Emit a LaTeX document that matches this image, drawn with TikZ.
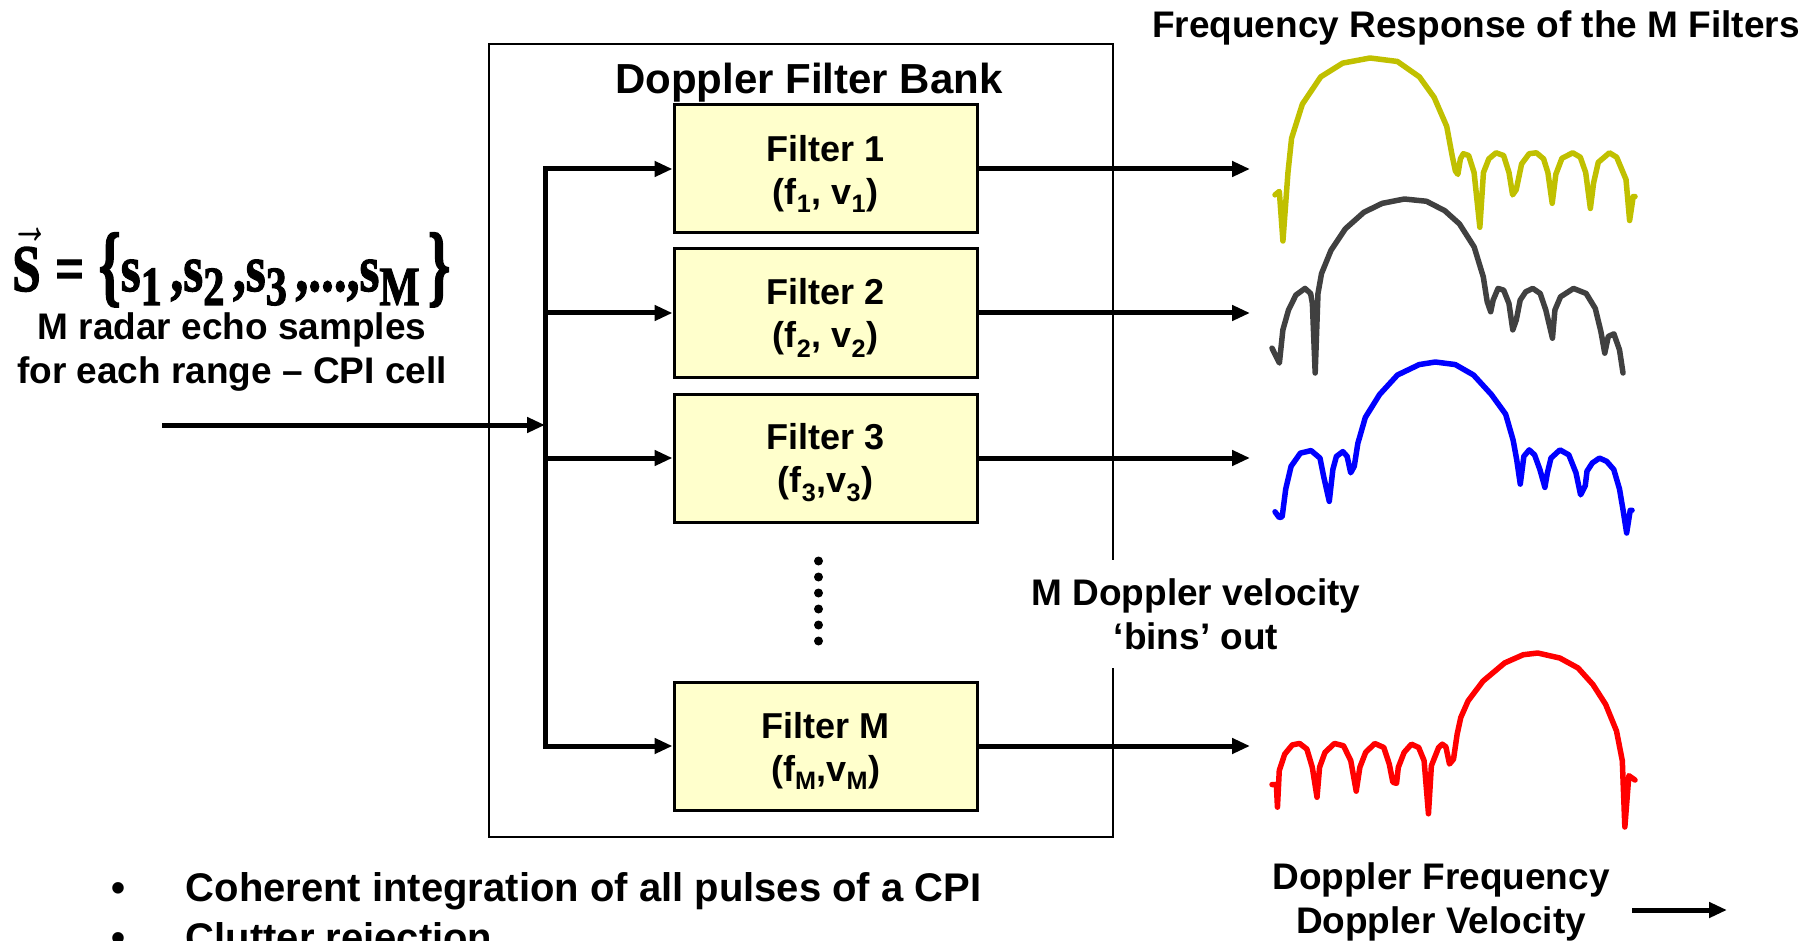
\documentclass[tikz,border=0pt]{standalone}
\usepackage{amsmath}
\usepackage{graphicx}
\usepackage{fontspec}
\setmainfont{Liberation Sans}
\newfontfamily\eqfont{Liberation Serif}[BoldFont={Liberation Serif Bold}, BoldFeatures={FakeBold=2}]
\usepackage{tikz}
\usetikzlibrary{
  arrows.meta,
  positioning,
  calc
}
\definecolor{filtercolor}{RGB}{255, 255, 204}
\definecolor{labelcolor}{RGB}{0, 0, 0}
\definecolor{arrowcolor}{RGB}{0, 0, 0}
\definecolor{resp1color}{RGB}{192, 192, 0}
\definecolor{resp2color}{RGB}{64, 64, 64}
\definecolor{resp3color}{RGB}{0, 0, 255}
\definecolor{respMcolor}{RGB}{255, 0, 0}
% subscript and braces of the sample vector
\newcommand{\eqsub}[1]{\raisebox{-0.21em}{\fontsize{8.3}{10}\selectfont #1}}
\newcommand{\eqbrace}[1]{\raisebox{-0.06em}{\scalebox{1.1}[1.35]{#1}}}
\newcommand{\fstrut}{\rule{0pt}{36pt}}
\tikzset{
labeltext/.style={
  font=\fontsize{37}{44}\selectfont\bfseries,
  text=labelcolor,
  align=center,
  inner sep=0pt
},
bullettext/.style={
  font=\fontsize{40}{48}\selectfont\bfseries,
  text=labelcolor,
  inner sep=0pt
},
arrow/.style={
  -{Triangle[length=18pt,width=15pt]},
  line width=5pt,
  draw=arrowcolor
},
response/.style={
  line width=5.5pt,
  line join=round,
  line cap=round,
  draw=#1
}
}

\begin{document}
\begin{tikzpicture}[
    x=1pt, y=-1pt,
    % block styles
    bankbox/.style={
        rectangle, draw=black, line width=2.5pt,
        minimum width=624pt, minimum height=793pt
    },
    filterbox/.style={
        rectangle, draw=black, line width=3pt,
        fill=filtercolor,
        minimum width=303pt, minimum height=128pt,
        font=\fontsize{36}{43}\selectfont\bfseries,
        align=center, inner sep=0pt
    },
    titlelabel/.style={font=\fontsize{42}{50}\selectfont\bfseries, text=labelcolor, inner sep=0pt},
    busline/.style={line width=5pt, draw=arrowcolor, line cap=rect}
]
\useasboundingbox (0,0) rectangle (1818,941);

% ============================================================================
% INPUT SAMPLES (left)
% ============================================================================
\node[anchor=base west, inner sep=0pt] (samples) at (12, 291)
    {\resizebox{438pt}{6.65\height}{\eqfont\bfseries $\vec{\text{S}}$\hspace{0.28em}=\hspace{0.28em}\eqbrace{\{}s\eqsub{1}\,,s\eqsub{2}\,,s\eqsub{3}\,,...,s\eqsub{M}\,\eqbrace{\}}}};
\node[labeltext] (samplestext) at (232, 352) {M radar echo samples\\for each range – CPI cell};

% ============================================================================
% DOPPLER FILTER BANK (center)
% ============================================================================
\node[bankbox] (bank) at (801, 440.5) {};
\node[titlelabel, anchor=base] (banktitle) at (809, 94) {Doppler Filter Bank};

\node[filterbox] (filter1) at (825.5, 169) {\fstrut Filter 1\\(f\textsubscript{1}, v\textsubscript{1})};
\node[filterbox] (filter2) at (825.5, 313) {\fstrut Filter 2\\(f\textsubscript{2}, v\textsubscript{2})};
\node[filterbox] (filter3) at (825.5, 458) {\fstrut Filter 3\\(f\textsubscript{3},v\textsubscript{3})};
\node[filterbox] (filterM) at (825.5, 746) {\fstrut Filter M\\(f\textsubscript{M},v\textsubscript{M})};

% dots between filter 3 and filter M
\foreach \k in {0,...,5}
    \fill[black] (818.5, {561+16*\k}) circle (4.5pt);

% bus and branches
\coordinate (inputstart) at (162, 425);
\coordinate (bus) at (545, 425);
\coordinate (outend) at (1250, 0);

\draw[busline] (filter1.west -| bus) -- (filterM.west -| bus);
\draw[arrow] (inputstart) -- (bus);
\foreach \f in {filter1, filter2, filter3, filterM} {
    \draw[arrow] (\f.west -| bus) -- (\f.west);
    \draw[arrow] (\f.east) -- (\f.east -| outend);
}

\node[labeltext, fill=white, inner xsep=4pt, inner ysep=18pt] (binslabel) at (1196, 614)
    {M Doppler velocity\\‘bins’ out};

% ============================================================================
% FREQUENCY RESPONSES (right)
% ============================================================================
\node[labeltext, anchor=base] (resptitle) at (1476, 38) {Frequency Response of the M Filters};

% filter 1
\begin{scope}[shift={(1275,58)}, xscale=3.60, yscale=1.83]
\draw[response=resp1color] plot coordinates {
    (0,74.8) (1.2,72.9) (2.2,100) (3.6,62.6) (4.6,43.9) (7.6,25.2) (12.7,10.3)
    (18.8,2.8) (26.4,0) (34.0,1.9) (40.1,10.3) (44.2,21.5) (47.7,37.4) (49.2,53.3)
    (50.1,61.7) (50.8,63.6) (51.5,55.1) (52.3,52.3) (53.8,53.3) (55.3,62.6)
    (56.9,92.5) (57.9,62.6) (59.4,55.1) (61.4,51.8) (63.5,53.3) (65.0,62.6)
    (66.0,74.8) (67.0,72.0) (68.5,57.9) (70.6,52.3) (72.6,51.8) (74.6,55.1)
    (75.8,62.6) (77.0,79.4) (78.0,63.6) (79.7,54.8) (82.7,51.8) (84.8,54.2)
    (86.3,62.6) (87.6,82.2) (88.5,68.2) (89.8,57.0) (92.9,51.8) (94.9,54.2)
    (97.5,66.4) (98.5,88.8) (99.5,75.7) (100,75.7)};
\end{scope}

% filter 2
\begin{scope}[shift={(1272,199)}, xscale=3.51, yscale=1.74]
\draw[response=resp2color] plot coordinates {
    (0,85.7) (2.1,94.3) (3.1,75.2) (4.7,63.8) (6.8,55.2) (9.4,51.4) (11.0,54.3)
    (11.5,60.0) (12.3,100) (13.1,54.3) (14.1,42.9) (16.8,29.5) (20.9,17.1)
    (26.2,7.6) (31.4,2.5) (37.7,0) (44.0,1.3) (49.2,6.7) (53.4,14.3) (57.6,27.6)
    (60.2,44.8) (61.3,59.0) (62.3,64.8) (63.0,58.1) (64.4,51.4) (66.0,52.4)
    (67.5,60.0) (68.6,75.2) (69.6,69.5) (70.7,58.1) (72.3,53.3) (74.3,51.4)
    (76.4,54.3) (78.0,63.8) (79.9,80.0) (80.6,63.8) (82.2,56.2) (85.9,51.4)
    (89.5,54.3) (92.1,62.9) (93.7,76.2) (94.8,88.6) (95.8,79.0) (97.4,77.5)
    (99.0,86.7) (100,100)};
\end{scope}

% filter 3
\begin{scope}[shift={(1275,362)}, xscale=3.57, yscale=1.71]
\draw[response=resp3color] plot coordinates {
    (0,87.6) (1.2,91.0) (2.0,90.5) (3.0,74.3) (4.5,61.0) (7.1,53.3) (10.1,51.8)
    (12.6,56.2) (13.6,66.7) (15.2,81.5) (16.2,62.9) (17.2,55.2) (19.0,52.4)
    (20.2,55.2) (21.2,64.8) (22.2,61.0) (23.2,47.6) (25.3,32.4) (29.3,19.0)
    (34.3,7.6) (40.4,1.5) (44.9,0) (50.5,1.5) (55.6,7.6) (60.6,19.0) (64.6,30.5)
    (66.7,45.7) (67.7,57.1) (68.7,71.4) (69.7,55.2) (71.2,51.4) (72.7,54.3)
    (74.2,62.9) (75.6,73.3) (76.3,64.8) (77.3,56.2) (79.8,51.4) (82.3,54.3)
    (84.3,64.8) (85.6,77.7) (86.9,72.4) (87.4,63.8) (88.9,59.0) (90.9,56.2)
    (92.9,58.1) (94.9,62.9) (96.5,74.3) (97.5,86.7) (98.5,100) (99.5,86.7)
    (100,86.7)};
\end{scope}

% filter M
\begin{scope}[shift={(1272,653)}, xscale=3.63, yscale=1.74]
\draw[response=respMcolor] plot coordinates {
    (0,75.6) (1.2,75.6) (1.5,88.6) (2.0,67.6) (3.5,58.1) (5.6,52.8) (7.6,52.0)
    (9.6,55.2) (11.1,65.7) (12.4,82.9) (13.1,65.7) (14.6,57.1) (17.2,52.0)
    (19.7,53.3) (21.7,61.9) (23.2,79.4) (24.2,65.7) (25.8,57.1) (28.3,52.0)
    (30.8,54.3) (32.3,63.8) (33.3,74.3) (34.3,74.9) (34.8,65.7) (36.4,57.1)
    (38.4,52.4) (40.4,54.3) (41.9,61.9) (43.1,92.4) (43.9,64.8) (45.9,54.3)
    (46.9,52.4) (47.9,53.9) (48.9,63.8) (50.0,61.0) (51.0,46.7) (52.0,37.1)
    (54.0,27.6) (58.1,16.2) (64.1,5.7) (69.2,1.0) (73.2,0) (79.3,2.9) (84.3,8.6)
    (88.4,18.1) (91.9,29.5) (94.9,44.8) (96.5,61.9) (97.2,100) (98.3,70.5)
    (100,73.0)};
\end{scope}

% axis label
\node[labeltext] (axislabel) at (1441, 902) {Doppler Frequency\\Doppler Velocity};
\coordinate (axisstart) at (1632, 910);
\coordinate (axisend) at (1727, 910);
\draw[arrow] (axisstart) -- (axisend);

% ============================================================================
% NOTES (bottom)
% ============================================================================
\node[bullettext, anchor=base] (bullet1) at (119, 901) {•};
\node[bullettext, anchor=base west] (note1) at (185.5, 901) {Coherent integration of all pulses of a CPI};
\node[bullettext, anchor=base] (bullet2) at (119, 951) {•};
\node[bullettext, anchor=base west] (note2) at (185.5, 951) {Clutter rejection};

\end{tikzpicture}
\end{document}
